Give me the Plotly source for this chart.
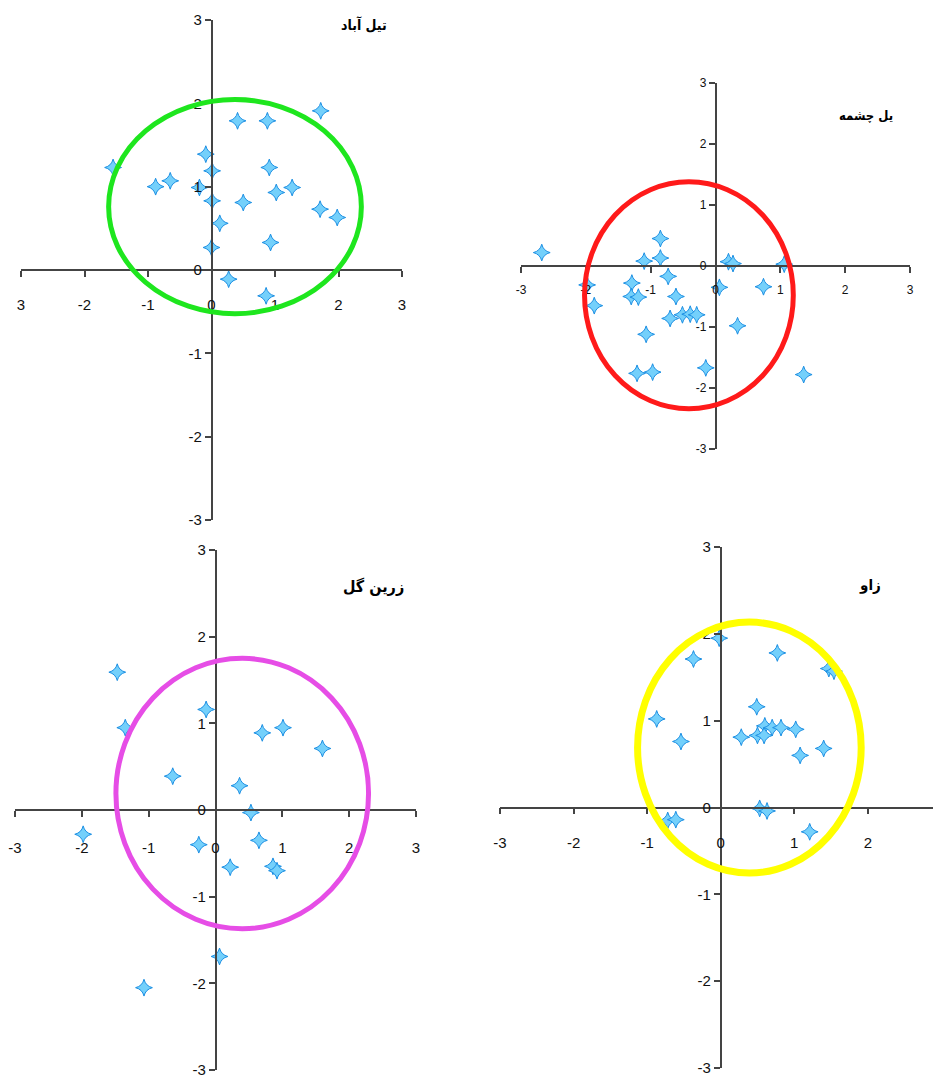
import plotly.graph_objects as go

# station names (panel titles)
titles = ["تیل آباد", "یل چشمه", "زرین گل", "زاو"]

# scores
tilabad_x = [-1.55, -0.88, -0.65, -0.19, -0.09, 0.01, 0.01, 0.13, 0.0, 0.27, 0.41,
             0.50, 0.88, 0.91, 1.02, 1.27, 0.93, 0.86, 1.72, 1.71, 1.98]
tilabad_y = [1.23, 1.00, 1.07, 0.99, 1.39, 1.19, 0.83, 0.56, 0.27, -0.11, 1.79,
             0.81, 1.79, 1.23, 0.93, 0.99, 0.33, -0.31, 1.91, 0.73, 0.63]

yelcheshmeh_x = [-2.68, -1.98, -1.87, -1.29, -1.30, -1.19, -1.10, -0.85, -0.85, -0.73,
                 -0.61, -0.70, -0.51, -0.39, -0.29, -1.07, -1.21, -0.97, -0.15, 0.06,
                 0.20, 0.27, 0.34, 0.74, 1.06, 1.36]
yelcheshmeh_y = [0.22, -0.31, -0.65, -0.28, -0.50, -0.51, 0.08, 0.45, 0.13, -0.17,
                 -0.50, -0.86, -0.80, -0.79, -0.80, -1.12, -1.76, -1.74, -1.67, -0.35,
                 0.07, 0.04, -0.98, -0.34, 0.03, -1.78]

zaringol_x = [-1.47, -1.35, -0.64, -0.14, -1.98, -0.25, -1.07, 0.06, 0.36, 0.53,
              0.65, 0.22, 0.70, 1.01, 0.86, 0.92, 1.60]
zaringol_y = [1.59, 0.95, 0.39, 1.16, -0.28, -0.40, -2.05, -1.69, 0.28, -0.03,
              -0.35, -0.66, 0.89, 0.95, -0.65, -0.70, 0.71]

zav_x = [-0.87, -0.37, -0.54, -0.72, -0.61, -0.02, 0.28, 0.49, 0.50, 0.60, 0.59,
         0.70, 0.82, 1.02, 1.08, 1.40, 0.77, 1.47, 1.54, 0.53, 0.63, 1.21]
zav_y = [1.02, 1.71, 0.76, -0.15, -0.14, 1.95, 0.81, 1.16, 0.83, 0.94, 0.83,
         0.92, 0.92, 0.90, 0.60, 0.68, 1.78, 1.60, 1.57, -0.01, -0.04, -0.28]

# ellipses drawn around each cloud
ellipse_cx = [0.37, -0.41, 0.40, 0.39]
ellipse_cy = [0.76, -0.48, 0.19, 0.69]
ellipse_rx = [1.99, 1.61, 1.89, 1.52]
ellipse_ry = [1.285, 1.86, 1.56, 1.445]
ellipse_colors = ["#1ee61e", "#ff1a1a", "#e64de6", "#ffff00"]

tick_vals = [-3, -2, -1, 0, 1, 2, 3]
x_tick_text = [
    ["3", "-2", "-1", "0", "1", "2", "3"],
    ["-3", "-2", "-1", "0", "1", "2", "3"],
    ["-3", "-2", "-1", "0", "1", "2", "3"],
    ["-3", "-2", "-1", "0", "1", "2", "3"],
]
y_tick_text = ["-3", "-2", "-1", "0", "1", "2", "3"]

xs = [tilabad_x, yelcheshmeh_x, zaringol_x, zav_x]
ys = [tilabad_y, yelcheshmeh_y, zaringol_y, zav_y]

W, H = 941, 1078
PAD = 8  # page body margin pushes the figure right/down
# plot boxes in screen pixels: left, top, right, bottom
boxes = [(21, 20, 402, 520), (521, 83, 910, 449), (15, 550, 416, 1070), (500, 547, 941, 1068)]
x_max = [3, 3, 3, 2.995]
title_pos = [(364, 24), (866, 115), (373, 586), (870, 585)]
title_size = [14, 13, 16, 15]
tick_size = [15, 12, 15, 15]
standoff = [15, 7, 18, 16]


def fx(px):
    return (px - PAD) / W


def fy(py):
    return 1 - (py - PAD) / H


fig = go.Figure()
axis_col = "#444444"

for i in range(4):
    n = "" if i == 0 else str(i + 1)
    l, t, r, b = boxes[i]
    x_rng = [-3, x_max[i]]
    y_rng = [-3, 3]
    if r - PAD > W:
        r = W + PAD
    xd = [fx(l), fx(r)]
    yd = [fy(b), fy(t)]
    x0_frac = xd[0] + (0 - x_rng[0]) / (x_rng[1] - x_rng[0]) * (xd[1] - xd[0])
    y0_frac = yd[0] + (0 - y_rng[0]) / (y_rng[1] - y_rng[0]) * (yd[1] - yd[0])
    font = dict(family="Liberation Sans Narrow, Arial Narrow, Liberation Sans, Arial",
                size=tick_size[i], color="#111111")
    fig.layout["xaxis" + n] = dict(
        domain=xd, range=x_rng, anchor="free", position=y0_frac,
        showline=True, linecolor=axis_col, linewidth=1.5,
        ticks="outside", ticklen=6, tickcolor=axis_col, tickwidth=1.5,
        tickvals=tick_vals, ticktext=x_tick_text[i], tickfont=font,
        ticklabelstandoff=standoff[i], ticklabeloverflow="allow", automargin=False,
        showgrid=False, zeroline=False, fixedrange=True,
    )
    fig.layout["yaxis" + n] = dict(
        domain=yd, range=y_rng, anchor="free", position=x0_frac,
        showline=True, linecolor=axis_col, linewidth=1.5,
        ticks="outside", ticklen=6, tickcolor=axis_col, tickwidth=1.5,
        tickvals=tick_vals, ticktext=y_tick_text, tickfont=font,
        ticklabeloverflow="allow", automargin=False,
        showgrid=False, zeroline=False, fixedrange=True,
    )

    fig.add_trace(go.Scatter(
        x=xs[i], y=ys[i], mode="markers", xaxis="x" + n, yaxis="y" + n,
        marker=dict(symbol="star-diamond", size=12, color="#74d0fb",
                    line=dict(color="#1c8fe3", width=1)),
        showlegend=False, cliponaxis=False,
    ))

    fig.add_shape(
        type="circle", xref="x" + n, yref="y" + n, layer="above",
        x0=ellipse_cx[i] - ellipse_rx[i], x1=ellipse_cx[i] + ellipse_rx[i],
        y0=ellipse_cy[i] - ellipse_ry[i], y1=ellipse_cy[i] + ellipse_ry[i],
        line=dict(color=ellipse_colors[i], width=7 if i == 3 else 5),
    )

    tx, ty = title_pos[i]
    fig.add_annotation(
        text="<b>" + titles[i] + "</b>", xref="paper", yref="paper",
        x=fx(tx), y=fy(ty), showarrow=False, xanchor="center", yanchor="middle",
        font=dict(family="DejaVu Sans Condensed, DejaVu Sans", size=title_size[i], color="#000000"),
    )

fig.update_layout(
    width=W, height=H,
    margin=dict(l=0, r=0, t=0, b=0, autoexpand=False),
    paper_bgcolor="white", plot_bgcolor="white",
    showlegend=False,
)

fig.write_html("out.html")
